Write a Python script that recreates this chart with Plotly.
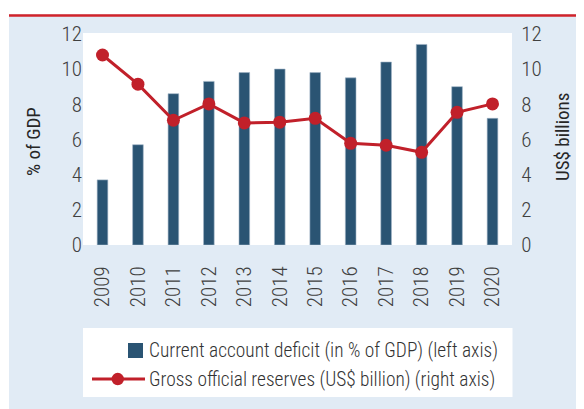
import plotly.graph_objects as go

years = ["2009", "2010", "2011", "2012", "2013", "2014", "2015", "2016", "2017", "2018", "2019", "2020"]
ca_deficit = [3.7, 5.7, 8.6, 9.3, 9.8, 10.0, 9.8, 9.5, 10.4, 11.4, 9.0, 7.2]
reserves = [10.8, 9.14, 7.09, 8.02, 6.94, 6.98, 7.2, 5.78, 5.67, 5.27, 7.54, 8.02]
y_ticks = [0, 2, 4, 6, 8, 10, 12]
bar_name = "Current account deficit (in % of GDP) (left axis)"
line_name = "Gross official reserves (US$ billion) (right axis)"

OFF = 8  # page body margin
W, H = 584, 409
# plot area in page pixels
PL, PR, PT, PB = 83, 512, 33, 245
L, R, T, B = PL - OFF, PR - OFF, PT - OFF, PB - OFF
FONT = "Roboto Condensed, Liberation Sans Narrow, Arial Narrow, sans-serif"
BLUE = "#2a5473"
RED = "#c1202a"
BG = "#e1ebf5"
TXT = "#404040"


def px(x):
    return (x - OFF - L) / (R - L)


def py(y):
    return (B - (y - OFF)) / (B - T)


fig = go.Figure()
fig.add_trace(go.Bar(x=years, y=ca_deficit, name=bar_name, width=0.3,
                     marker=dict(color=BLUE, line=dict(color="#9fb4c6", width=0.6)),
                     yaxis="y"))
fig.add_trace(go.Scatter(x=years, y=reserves, name=line_name, mode="lines+markers",
                         line=dict(color=RED, width=3), marker=dict(color=RED, size=13),
                         yaxis="y2"))

shapes = [
    dict(type="rect", xref="paper", yref="paper", x0=px(0), x1=px(W + 20), y0=py(0), y1=py(14),
         fillcolor="white", line_width=0, layer="below"),
    dict(type="rect", xref="paper", yref="paper", x0=px(0), x1=px(9), y0=py(0), y1=py(H + 20),
         fillcolor="white", line_width=0, layer="below"),
    dict(type="line", xref="paper", yref="paper", x0=px(9), x1=px(W + 20), y0=py(15.5), y1=py(15.5),
         line=dict(color="#d1232a", width=2.6), layer="above"),
    dict(type="rect", xref="paper", yref="paper", x0=px(83), x1=px(512.5), y0=py(328), y1=py(397),
         fillcolor="white", line_width=0, layer="below"),
    # legend symbols
    dict(type="rect", xref="paper", yref="paper", x0=px(128), x1=px(143), y0=py(343), y1=py(358),
         fillcolor=BLUE, line_width=0, layer="above"),
    dict(type="line", xref="paper", yref="paper", x0=px(92), x1=px(145), y0=py(379), y1=py(379),
         line=dict(color=RED, width=3), layer="above"),
    dict(type="circle", xref="paper", yref="paper", x0=px(111.5), x1=px(124), y0=py(372.8), y1=py(385.3),
         fillcolor=RED, line_width=0, layer="above"),
]

annotations = [
    dict(text="% of GDP", x=px(33), y=py(142), xref="paper", yref="paper", textangle=-90,
         showarrow=False, font=dict(family=FONT, size=19, color="#262626"), xanchor="center", yanchor="middle"),
    dict(text="US$ billions", x=px(562), y=py(137), xref="paper", yref="paper", textangle=-90,
         showarrow=False, font=dict(family=FONT, size=19, color="#262626"), xanchor="center", yanchor="middle"),
    dict(text="(est.)", x="2019", y=py(317), xref="x", yref="paper", showarrow=False,
         font=dict(family=FONT, size=19, color=TXT, weight=300), xanchor="center", yanchor="middle"),
    dict(text="(proj.)", x="2020", y=py(317), xref="x", yref="paper", showarrow=False,
         font=dict(family=FONT, size=19, color=TXT, weight=300), xanchor="center", yanchor="middle"),
    dict(text=bar_name, x=px(147), y=py(350.5), xref="paper", yref="paper", showarrow=False,
         font=dict(family=FONT, size=19.4, color="#333", weight=300), xanchor="left", yanchor="middle"),
    dict(text=line_name, x=px(147), y=py(379.3), xref="paper", yref="paper", showarrow=False,
         font=dict(family=FONT, size=19.4, color="#333", weight=300), xanchor="left", yanchor="middle"),
]

tf = dict(size=21, family=FONT, color=TXT, weight=300)
fig.update_layout(
    width=W, height=H,
    margin=dict(l=L, r=W - R, t=T, b=H - B, pad=0),
    paper_bgcolor=BG, plot_bgcolor="white",
    showlegend=False,
    font=dict(family=FONT, size=20, color=TXT),
    xaxis=dict(type="category", range=[-0.55, 11.55], tickangle=-90, showline=False,
               showgrid=False, zeroline=False, ticks="outside", ticklen=12,
               tickcolor="rgba(0,0,0,0)", tickfont=tf),
    yaxis=dict(range=[0, 12.05], tickvals=y_ticks, showgrid=False, zeroline=False, showline=False,
               ticks="", tickfont=tf),
    yaxis2=dict(range=[0, 12.05], tickvals=y_ticks, overlaying="y", side="right",
                showgrid=False, zeroline=False, showline=False,
                ticks="outside", ticklen=4, tickcolor="rgba(0,0,0,0)", tickfont=tf),
    shapes=shapes,
    annotations=annotations,
    bargap=0.7,
)

fig.write_html("out.html")
